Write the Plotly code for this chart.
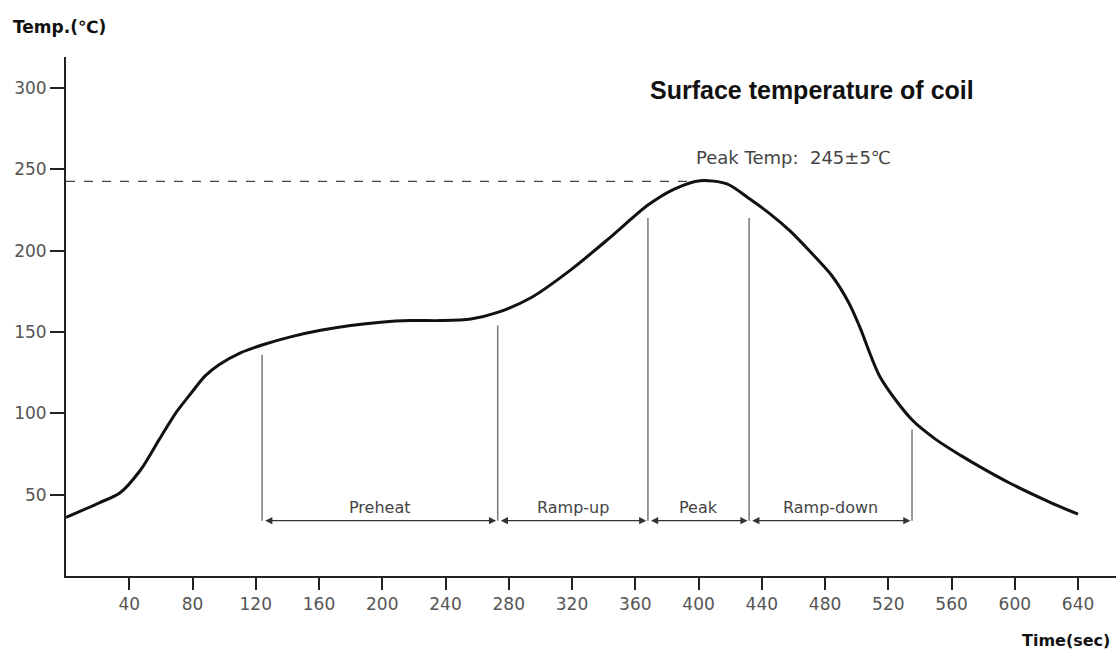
import plotly.graph_objects as go

# Curve data (time in sec, temperature in °C)
time_s = [0, 21, 34, 47, 59, 70, 78, 88, 97, 110, 124, 142, 161, 180, 199, 218, 237, 256, 273, 294, 319, 344, 368, 385, 401, 418, 432, 446, 458, 471, 484, 495, 502, 515, 535, 550, 566, 580, 597, 623, 640]
temp_c = [36, 45, 51, 65, 84, 101, 111, 123, 130, 137, 142, 147, 151, 154, 156, 157, 157, 158, 162, 171, 188, 208, 228, 238, 243, 241, 232, 222, 212, 199, 185, 168, 153, 122, 96, 84, 74, 66, 57, 45, 38]

# Phase boundaries and labels
phase_bounds = [124, 273, 368, 432, 535]
phase_tops = [136, 154, 220, 220, 90]
phase_names = ["Preheat", "Ramp-up", "Peak", "Ramp-down"]
arrow_level = 34
label_level = 42

peak_line_temp = 242.5
peak_line_end = 395

x_ticks = [40, 80, 120, 160, 200, 240, 280, 320, 360, 400, 440, 480, 520, 560, 600, 640]
y_ticks = [50, 100, 150, 200, 250, 300]

FONT = "DejaVu Sans, Liberation Sans, sans-serif"
TFONT = "Liberation Sans, Arial, sans-serif"

fig = go.Figure()
fig.add_trace(go.Scatter(x=time_s, y=temp_c, mode="lines",
                         line=dict(color="#111111", width=3, shape="spline", smoothing=0.8),
                         hoverinfo="skip", showlegend=False))

shapes = []
shapes.append(dict(type="line", xref="x", yref="y", x0=0, x1=peak_line_end,
                   y0=peak_line_temp, y1=peak_line_temp,
                   line=dict(color="#444444", width=1.2, dash="dash")))
for b, t in zip(phase_bounds, phase_tops):
    shapes.append(dict(type="line", xref="x", yref="y", x0=b, x1=b, y0=arrow_level, y1=t,
                       line=dict(color="#777777", width=1.5)))

annotations = []
for i, name in enumerate(phase_names):
    a, b = phase_bounds[i], phase_bounds[i + 1]
    annotations.append(dict(x=b - 1, y=arrow_level, ax=a + 1, ay=arrow_level,
                            xref="x", yref="y", axref="x", ayref="y",
                            showarrow=True, arrowhead=2, arrowside="end+start",
                            arrowsize=1.2, arrowwidth=1.2, arrowcolor="#333333", text=""))
    annotations.append(dict(x=(a + b) / 2, y=label_level, xref="x", yref="y",
                            text=name, showarrow=False,
                            font=dict(family=FONT, size=16, color="#444444")))

annotations.append(dict(x=0.7105, y=0.936, xref="paper", yref="paper",
                        xanchor="center", yanchor="middle",
                        text="<b>Surface temperature of coil</b>", showarrow=False,
                        font=dict(family=TFONT, size=25, color="#111111")))
annotations.append(dict(x=460, y=257, xref="x", yref="y", xanchor="center", yanchor="middle",
                        text="Peak Temp:\u00a0\u00a0245±5℃", showarrow=False,
                        font=dict(family=FONT, size=18, color="#444444")))
annotations.append(dict(x=-0.0524, y=1.058, xref="paper", yref="paper",
                        xanchor="left", yanchor="middle",
                        text="<b>Temp.(℃)</b>", showarrow=False,
                        font=dict(family=FONT, size=17, color="#111111")))
annotations.append(dict(x=0.996, y=-0.125, xref="paper", yref="paper",
                        xanchor="right", yanchor="middle",
                        text="<b>Time(sec)</b>", showarrow=False,
                        font=dict(family=FONT, size=16, color="#111111")))

fig.update_layout(
    width=1116, height=652,
    margin=dict(l=66, r=0, t=57, b=76),
    paper_bgcolor="white", plot_bgcolor="white",
    shapes=shapes, annotations=annotations,
    xaxis=dict(range=[0, 664], tickvals=x_ticks, ticktext=[str(v) for v in x_ticks],
               showgrid=False, zeroline=False, showline=True, linecolor="#222222", linewidth=2,
               ticks="outside", ticklen=12, tickwidth=2, tickcolor="#222222",
               tickfont=dict(family=FONT, size=17, color="#555555")),
    yaxis=dict(range=[0, 319], tickvals=y_ticks, ticktext=[str(v) for v in y_ticks],
               showgrid=False, zeroline=False, showline=True, linecolor="#222222", linewidth=2,
               ticks="outside", ticklen=14, tickwidth=2, tickcolor="#222222",
               tickfont=dict(family=FONT, size=17, color="#555555")),
)

fig.write_html("out.html", config={"displayModeBar": False},
               post_script="document.body.style.margin='0px';document.body.style.overflow='hidden';")
